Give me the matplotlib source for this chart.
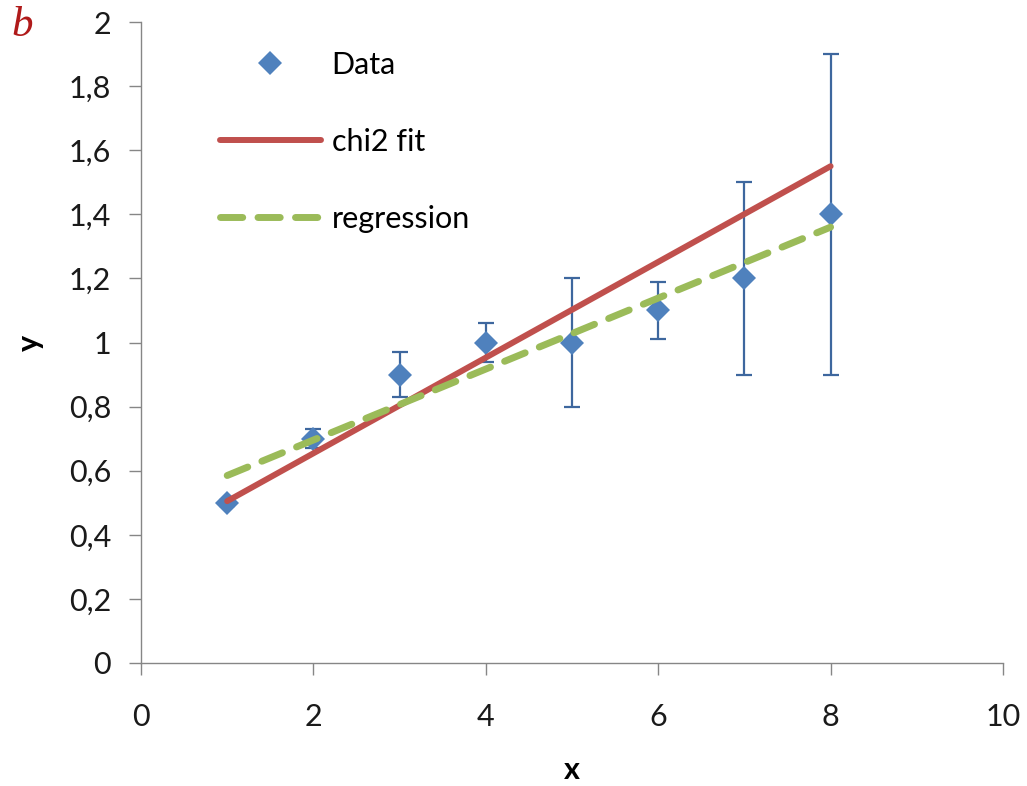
import matplotlib
matplotlib.use("Agg")
import matplotlib.pyplot as plt
from matplotlib.lines import Line2D

# ---- data ----
x_data = [1, 2, 3, 4, 5, 6, 7, 8]
y_data = [0.5, 0.7, 0.9, 1.0, 1.0, 1.1, 1.2, 1.4]
y_err = [0.01, 0.03, 0.07, 0.06, 0.2, 0.09, 0.3, 0.5]

fit_x = [1, 8]
chi2_y = [0.505, 1.55]
reg_y = [0.585, 1.36]

x_ticks = [0, 2, 4, 6, 8, 10]
y_ticks = [0, 0.2, 0.4, 0.6, 0.8, 1.0, 1.2, 1.4, 1.6, 1.8, 2.0]
y_tick_labels = ["0", "0,2", "0,4", "0,6", "0,8", "1", "1,2", "1,4", "1,6", "1,8", "2"]

plt.rcParams['font.family'] = ['Lato', 'DejaVu Sans']

W, H = 1027, 786
fig = plt.figure(figsize=(W / 100, H / 100), dpi=100)
ax = fig.add_axes([141 / W, 1 - 663 / H, (1003 - 141) / W, (663 - 22) / H])

blue = '#4F81BD'
ebar = '#3E679E'
red = '#C0504D'
green = '#9BBB59'
axis_col = '#868686'

ax.errorbar(x_data, y_data, yerr=y_err, fmt='none', ecolor=ebar,
            elinewidth=1.6, capsize=6, capthick=1.6, zorder=2)
ax.plot(x_data, y_data, linestyle='none', marker='D', markersize=12.5,
        color=blue, markeredgewidth=0, zorder=3)
ax.plot(fit_x, chi2_y, color=red, linewidth=4.3, solid_capstyle='round', zorder=4)
ax.plot(fit_x, reg_y, color=green, linewidth=5, linestyle=(0, (3.2, 2.2)),
        dash_capstyle='round', zorder=5)

ax.set_xlim(0, 10)
ax.set_ylim(0, 2)
ax.set_xticks(x_ticks)
ax.set_xticklabels([str(v) for v in x_ticks])
ax.set_yticks(y_ticks)
ax.set_yticklabels(y_tick_labels)

for s in ['top', 'right']:
    ax.spines[s].set_visible(False)
for s in ['left', 'bottom']:
    ax.spines[s].set_color(axis_col)
    ax.spines[s].set_linewidth(1.0)

ax.tick_params(axis='both', direction='out', length=8.5, width=1.0,
               color=axis_col, labelsize=22, labelcolor='#1a1a1a')
ax.tick_params(axis='y', pad=13)
ax.tick_params(axis='x', pad=20)

ax.set_xlabel('x', fontsize=22, fontweight='bold', labelpad=18)
ax.set_ylabel('y', fontsize=22, fontweight='bold', labelpad=18)

handles = [
    Line2D([], [], linestyle='none', marker='D', markersize=12.5, color=blue, markeredgewidth=0),
    Line2D([], [], color=red, linewidth=4.3, solid_capstyle='round'),
    Line2D([], [], color=green, linewidth=5, linestyle=(0, (3.2, 2.2)), dash_capstyle='round'),
]
labels = ['Data', 'chi2 fit', 'regression']
leg = fig.legend(handles, labels, loc='upper left',
                 bbox_to_anchor=(220 / W, 1 - 51 / H),
                 frameon=False, fontsize=22, handlelength=3.3,
                 handletextpad=0.35, labelspacing=1.6, borderpad=0,
                 borderaxespad=0)

fig.text(22 / W, 1 - 26 / H, 'b', fontsize=31, style='italic',
         family=['Liberation Serif', 'DejaVu Serif'], color='#B01A1A',
         ha='center', va='center')

fig.savefig('out.png', dpi=100)
